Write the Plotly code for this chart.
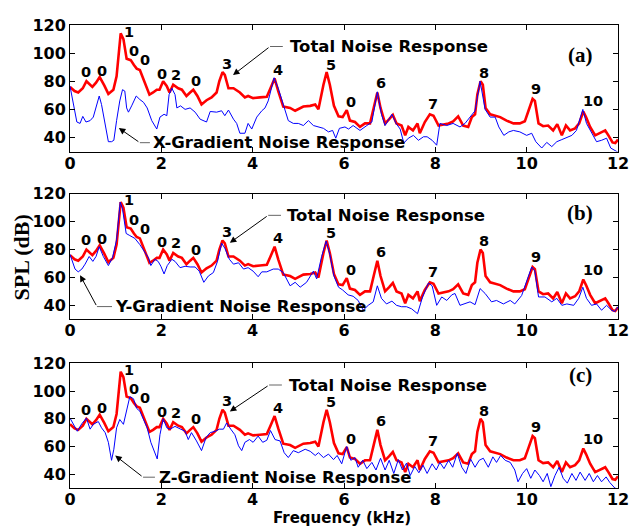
import plotly.graph_objects as go

# ---------------- data ----------------
freq_total = [0, 0.1, 0.18, 0.28, 0.36, 0.42, 0.49, 0.57, 0.65, 0.75,
              0.84, 0.95, 1.02, 1.11, 1.17, 1.24, 1.33, 1.40, 1.46, 1.53,
              1.61, 1.66, 1.74, 1.82, 1.90, 1.96, 2.04, 2.12, 2.18, 2.26,
              2.37, 2.45, 2.55, 2.63, 2.70, 2.79, 2.88, 2.99, 3.10, 3.21,
              3.27, 3.34, 3.39, 3.47, 3.58, 3.72, 3.83, 3.90, 4.01, 4.16,
              4.31, 4.39, 4.48, 4.56, 4.67, 4.82, 4.93, 5.11, 5.26, 5.37,
              5.44, 5.55, 5.62, 5.69, 5.78, 5.88, 5.97, 6.06, 6.13, 6.24,
              6.35, 6.46, 6.57, 6.65, 6.73, 6.80, 6.90, 6.99, 7.07, 7.15,
              7.26, 7.34, 7.41, 7.51, 7.61, 7.66, 7.77, 7.88, 7.96, 8.07,
              8.18, 8.29, 8.39, 8.50, 8.61, 8.72, 8.80, 8.87, 8.92, 8.99,
              9.04, 9.10, 9.20, 9.31, 9.42, 9.56, 9.71, 9.85, 9.96, 10.04,
              10.13, 10.18, 10.26, 10.36, 10.47, 10.58, 10.67, 10.77, 10.86, 10.95,
              11.06, 11.15, 11.24, 11.30, 11.39, 11.50, 11.61, 11.72, 11.79, 11.88,
              11.94, 12.0]
spl_total = [76, 73, 72, 75, 80, 78, 76, 79, 83, 77,
             71, 74, 83.5, 114, 110, 96, 95, 91.5, 89, 88,
             81, 77.5, 70.5, 72, 74, 74, 80, 76.5, 72, 77.5,
             75, 74, 69.5, 72, 74, 69.5, 63.5, 66.5, 68.5, 72,
             80, 86.5, 84.5, 75, 75, 72, 68.5, 69.5, 68, 68.5,
             69, 75, 82, 73, 62, 61, 59, 62, 62.5, 63.5,
             60, 77.5, 86.5, 77.5, 62.5, 55, 54.5, 59.5, 52, 51,
             47.5, 50, 50, 61, 72, 61, 50, 53, 56, 50,
             48.5, 41.5, 47.5, 45, 50, 43, 51, 56.5, 55.5, 48.5,
             49.5, 50, 51.5, 55, 48.5, 47.5, 54.5, 56.5, 70.5, 80,
             77.5, 61, 56.5, 55.5, 54.5, 52, 50, 50, 51.5, 59,
             67.5, 66, 50, 48, 48.5, 45, 49.5, 41.5, 48.5, 45,
             46.5, 50, 58.5, 54.5, 47.5, 41.5, 43, 45, 41.5, 36.5,
             36, 38.5]

freq_x = [0, 0.07, 0.15, 0.22, 0.28, 0.35, 0.44, 0.51, 0.58, 0.64,
          0.69, 0.77, 0.84, 0.91, 0.96, 1.02, 1.09, 1.15, 1.20, 1.24,
          1.28, 1.35, 1.45, 1.53, 1.61, 1.69, 1.79, 1.90, 1.97, 2.06,
          2.12, 2.17, 2.23, 2.30, 2.34, 2.42, 2.52, 2.63, 2.74, 2.85,
          2.99, 3.07, 3.21, 3.32, 3.39, 3.47, 3.58, 3.65, 3.72, 3.83,
          3.90, 3.98, 4.09, 4.20, 4.27, 4.34, 4.47, 4.56, 4.67, 4.78,
          4.89, 5.00, 5.11, 5.22, 5.33, 5.44, 5.55, 5.66, 5.75, 5.82,
          5.90, 6.02, 6.10, 6.20, 6.35, 6.50, 6.61, 6.73, 6.82, 6.90,
          7.05, 7.14, 7.23, 7.31, 7.41, 7.52, 7.63, 7.74, 7.82, 7.93,
          8.03, 8.10, 8.25, 8.39, 8.54, 8.65, 8.76, 8.87, 8.98, 9.09,
          9.20, 9.31, 9.39, 9.50, 9.61, 9.71, 9.85, 10.00, 10.11, 10.20,
          10.33, 10.44, 10.55, 10.66, 10.77, 10.88, 10.99, 11.09, 11.23, 11.31,
          11.42, 11.53, 11.64, 11.75, 11.84, 11.93, 12.0]
spl_x = [76.5, 63.5, 51, 50, 55, 51, 52, 54.5, 62.5, 69.5,
         63.5, 50, 37, 37, 38, 52, 66, 74, 73, 61,
         58, 62.5, 69.5, 67, 65, 61, 52, 46, 54.5, 56.5,
         55.5, 70.5, 75, 70.5, 61, 62.5, 60, 61, 58, 53,
         51, 58.5, 58, 59, 55.5, 59.5, 53, 50, 43, 43,
         50, 46, 54.5, 59, 61, 66, 82.5, 75, 63.5, 52,
         50, 50, 48.5, 52, 48.5, 47.5, 46.5, 44, 45, 39.5,
         46.5, 47.5, 46, 48.5, 45, 48.5, 51, 72.5, 56.5, 48.5,
         56.5, 50, 46, 36, 39.5, 41.5, 38, 40.5, 40.5, 38,
         34.5, 50, 48.5, 50, 47.5, 50, 54.5, 59, 80, 60,
         54.5, 54.5, 47.5, 41.5, 44, 45, 44, 41.5, 43, 37,
         32.5, 36.5, 33.5, 37, 38.5, 40, 41.5, 45, 60, 50,
         43, 37, 38, 39.5, 32.5, 30.5, 29.5]

freq_y = [0, 0.06, 0.11, 0.18, 0.26, 0.33, 0.42, 0.50, 0.57, 0.64,
          0.73, 0.84, 0.93, 1.02, 1.10, 1.15, 1.23, 1.31, 1.42, 1.53,
          1.64, 1.72, 1.77, 1.86, 1.93, 1.99, 2.06, 2.13, 2.23, 2.30,
          2.41, 2.52, 2.63, 2.74, 2.83, 2.93, 3.03, 3.14, 3.23, 3.32,
          3.39, 3.49, 3.58, 3.69, 3.80, 3.90, 4.01, 4.12, 4.20, 4.31,
          4.45, 4.56, 4.67, 4.82, 4.93, 5.04, 5.18, 5.33, 5.40, 5.51,
          5.61, 5.69, 5.78, 5.88, 5.97, 6.09, 6.20, 6.31, 6.42, 6.53,
          6.64, 6.73, 6.82, 6.93, 7.05, 7.15, 7.26, 7.37, 7.48, 7.61,
          7.72, 7.85, 7.93, 8.03, 8.14, 8.25, 8.36, 8.43, 8.54, 8.65,
          8.76, 8.87, 8.98, 9.09, 9.23, 9.34, 9.49, 9.64, 9.74, 9.89,
          10.00, 10.11, 10.18, 10.26, 10.40, 10.55, 10.66, 10.77, 10.88, 11.03,
          11.14, 11.23, 11.31, 11.42, 11.53, 11.64, 11.75, 11.86, 11.93, 12.0]
spl_y = [76.5, 71.5, 66, 64, 66, 69.5, 75, 71.5, 75, 82,
         75, 68.5, 74, 87, 114, 109, 91.5, 90, 88, 83.5,
         78.5, 74, 68.5, 73, 71.5, 68, 62.5, 68.5, 73, 71.5,
         67, 68, 67.5, 67.5, 64.5, 56.5, 61, 63.5, 71.5, 84.5,
         81, 73, 69.5, 70.5, 66, 67, 64.5, 60.5, 64, 64,
         66, 66, 63.5, 54, 56.5, 53, 56.5, 64.5, 59, 75,
         86, 76.5, 61, 53, 51, 47.5, 46.5, 43.5, 36.5, 40,
         42.5, 54, 45, 41, 43, 40, 39, 39, 37.5, 34,
         46, 56, 54, 40, 46, 43.5, 47.5, 48.5, 40, 41,
         42.5, 40.5, 52, 48.5, 42.5, 43.5, 41, 43.5, 41, 47,
         57.5, 67.5, 64.5, 46, 46, 42.5, 45, 40, 41, 40,
         45, 53, 45, 40, 41, 36.5, 40, 36.5, 35.5, 39]

freq_z = [0, 0.07, 0.16, 0.26, 0.36, 0.44, 0.51, 0.62, 0.69, 0.77,
          0.84, 0.91, 0.96, 1.02, 1.09, 1.17, 1.24, 1.31, 1.39, 1.46,
          1.53, 1.61, 1.69, 1.77, 1.84, 1.91, 1.97, 2.04, 2.12, 2.19,
          2.30, 2.41, 2.52, 2.59, 2.66, 2.77, 2.88, 2.98, 3.07, 3.18,
          3.27, 3.36, 3.43, 3.52, 3.61, 3.69, 3.76, 3.83, 3.93, 4.01,
          4.12, 4.22, 4.31, 4.39, 4.49, 4.60, 4.69, 4.78, 4.89, 5.00,
          5.15, 5.26, 5.37, 5.44, 5.55, 5.66, 5.77, 5.85, 5.95, 6.06,
          6.15, 6.24, 6.31, 6.41, 6.50, 6.61, 6.70, 6.80, 6.90, 6.99,
          7.09, 7.19, 7.28, 7.37, 7.45, 7.55, 7.64, 7.73, 7.82, 7.93,
          8.02, 8.10, 8.19, 8.29, 8.38, 8.48, 8.58, 8.67, 8.77, 8.87,
          8.96, 9.05, 9.16, 9.26, 9.34, 9.43, 9.53, 9.64, 9.74, 9.81,
          9.91, 10.00, 10.09, 10.18, 10.28, 10.36, 10.45, 10.53, 10.62, 10.71,
          10.80, 10.89, 10.99, 11.08, 11.17, 11.28, 11.37, 11.46, 11.55, 11.64,
          11.74, 11.82, 11.93, 12.0]
spl_z = [80.5, 76, 71, 76.5, 80.5, 72.5, 76, 78, 73.5, 70,
         63, 50, 58, 73.5, 79.5, 76, 85.5, 96, 94.5, 87.5,
         85.5, 79.5, 73.5, 63, 57, 51, 68.5, 80, 73.5, 72.5,
         74.5, 72.5, 71, 65, 70, 64, 57, 66.5, 70, 71,
         72.5, 72.5, 77, 72.5, 68.5, 60.5, 57, 63, 65, 63,
         67.5, 63, 64.5, 71.5, 65, 64, 55.5, 52, 57, 55.5,
         58, 56.5, 53.5, 55.5, 52, 54.5, 50.5, 53.5, 47.5, 60,
         50, 52, 45, 50, 44, 48.5, 43, 51.5, 43, 50,
         40.5, 50.5, 43, 48, 39, 45.5, 41, 46.5, 40.5, 47.5,
         43, 48.5, 44, 50, 45, 55, 45, 40.5, 51, 45,
         50, 51.5, 45, 52.5, 48.5, 53.5, 50, 48.5, 43, 34.5,
         40.5, 44, 37, 43, 39, 34.5, 40.5, 31, 39, 45,
         37, 33.5, 40.5, 35.5, 41.5, 35.5, 40.5, 34.5, 39, 34.5,
         38, 34, 30, 29]

mode_labels = ["0", "0", "1", "0", "0", "0", "2", "0", "3", "4", "5",
               "0", "6", "7", "8", "9", "10"]
mode_freq = [0.35, 0.69, 1.30, 1.40, 1.65, 2.02, 2.32, 2.75, 3.43, 4.56, 5.71,
             6.15, 6.82, 7.95, 9.06, 10.20, 11.46]
mode_spl = [86.5, 87.5, 115.2, 101.3, 94.8, 85.2, 84.5, 80.0, 92.6, 88.0, 91.8,
            65.5, 78.5, 63.6, 85.9, 74.3, 65.6]

panel_tags = ["(a)", "(b)", "(c)"]
tag_spl = [98.4, 105.9, 111.3]
gradient_names = ["X-Gradient Noise Response", "Y-Gradient Noise Response",
                  "Z-Gradient Noise Response"]
x_ticks = [0, 2, 4, 6, 8, 10, 12]
y_ticks = [40, 60, 80, 100, 120]

# annotation geometry per panel (axis units)
total_text_pos = [(4.77, 104.7), (4.71, 104.5), (4.75, 104.4)]
total_seg = [(4.66, 4.38), (4.62, 4.34), (4.64, 4.36)]
total_head = [(3.57, 84.4), (3.50, 84.8), (3.50, 85.3)]
grad_text_pos = [(1.77, 36.3), (0.94, 39.1), (1.90, 37.8)]
grad_seg = [(1.75, 1.53), (0.92, 0.59), (1.86, 1.60)]
grad_head = [(1.07, 46.7), (0.22, 61.6), (0.99, 53.4)]

gradient_freqs = [freq_x, freq_y, freq_z]
gradient_spls = [spl_x, spl_y, spl_z]

# ---------------- figure ----------------
# page body has an 8px default margin: lay out in page pixels minus 8
OFF = 8
W, H = 640 - OFF, 527 - OFF
ml, mt = 70 - OFF, 16 - OFF
mr = W - (618 - OFF)
mb = H - (488 - OFF)
ph = H - mt - mb
pw = W - ml - mr
panel_px = [(16, 145), (188, 316), (361, 488)]

SANS = "DejaVu Sans"
fig = go.Figure()
layout = {}
annotations = []
shapes = []

for i in range(3):
    sx = "" if i == 0 else str(i + 1)
    xa, ya = "x" + sx, "y" + sx
    fig.add_trace(go.Scatter(x=freq_total, y=spl_total, mode="lines",
                             line=dict(color="#ff0000", width=2.6),
                             xaxis=xa, yaxis=ya, showlegend=False))
    fig.add_trace(go.Scatter(x=gradient_freqs[i], y=gradient_spls[i], mode="lines",
                             line=dict(color="#0000ff", width=1),
                             xaxis=xa, yaxis=ya, showlegend=False))
    top, bot = panel_px[i]
    top, bot = top - OFF, bot - OFF
    dom = [(H - mb - bot) / ph, (H - mb - top) / ph]
    axcommon = dict(showline=True, linecolor="black", linewidth=1, mirror="ticks",
                    ticks="inside", ticklen=5, tickcolor="black", showgrid=False,
                    zeroline=False,
                    tickfont=dict(family=SANS, size=16, color="black", weight="bold"))
    layout["xaxis" + sx] = dict(axcommon, range=[0, 12], tickvals=x_ticks,
                                anchor=ya, domain=[0, 1], ticklabelstandoff=-3)
    layout["yaxis" + sx] = dict(axcommon, range=[30, 120], tickvals=y_ticks,
                                anchor=xa, domain=dom)

    for t, f, s in zip(mode_labels, mode_freq, mode_spl):
        annotations.append(dict(x=f, y=s, xref=xa, yref=ya, text=t, showarrow=False,
                                xanchor="center", yanchor="middle",
                                font=dict(family=SANS, size=14.5, color="black", weight="bold")))
    annotations.append(dict(x=11.17, y=tag_spl[i], xref=xa, yref=ya, text=panel_tags[i],
                            showarrow=False, xanchor="center", yanchor="middle",
                            font=dict(family="Liberation Serif", size=21, color="black",
                                      weight="bold")))
    # Total noise response label + arrow
    tx, ty = total_text_pos[i]
    annotations.append(dict(x=tx, y=ty, xref=xa, yref=ya, text="Total Noise Response",
                            showarrow=False, xanchor="left", yanchor="middle",
                            font=dict(family=SANS, size=16.5, color="black", weight="bold")))
    s0, s1 = total_seg[i]
    shapes.append(dict(type="line", xref=xa, yref=ya, x0=s0, x1=s1, y0=ty, y1=ty,
                       line=dict(color="#666666", width=1)))
    hx, hy = total_head[i]
    annotations.append(dict(x=hx, y=hy, ax=s1, ay=ty, xref=xa, yref=ya, axref=xa,
                            ayref=ya, text="", showarrow=True, arrowhead=2,
                            arrowsize=1.3, arrowwidth=1, arrowcolor="black", standoff=0))
    # gradient label + arrow
    gx, gy = grad_text_pos[i]
    annotations.append(dict(x=gx, y=gy, xref=xa, yref=ya, text=gradient_names[i],
                            showarrow=False, xanchor="left", yanchor="middle",
                            font=dict(family=SANS, size=16.5, color="black", weight="bold")))
    g0, g1 = grad_seg[i]
    shapes.append(dict(type="line", xref=xa, yref=ya, x0=g0, x1=g1, y0=gy, y1=gy,
                       line=dict(color="#666666", width=1)))
    hx, hy = grad_head[i]
    annotations.append(dict(x=hx, y=hy, ax=g1, ay=gy, xref=xa, yref=ya, axref=xa,
                            ayref=ya, text="", showarrow=True, arrowhead=2,
                            arrowsize=1.3, arrowwidth=1, arrowcolor="black", standoff=0))

annotations.append(dict(x=(21 - OFF - ml) / pw, y=(H - mb - (253 - OFF)) / ph,
                        xref="paper", yref="paper", text="SPL (dB)", textangle=-90,
                        showarrow=False, xanchor="center", yanchor="middle",
                        font=dict(family="Liberation Serif", size=22, color="black",
                                  weight="bold")))
annotations.append(dict(x=(342 - OFF - ml) / pw, y=(H - mb - (519 - OFF)) / ph,
                        xref="paper", yref="paper", text="Frequency (kHz)",
                        showarrow=False, xanchor="center", yanchor="middle",
                        font=dict(family=SANS, size=15, color="black", weight="bold")))

fig.update_layout(**layout)
fig.update_layout(width=W, height=H, margin=dict(l=ml, r=mr, t=mt, b=mb),
                  paper_bgcolor="white", plot_bgcolor="white",
                  annotations=annotations, shapes=shapes, showlegend=False)
fig.write_html("out.html")
